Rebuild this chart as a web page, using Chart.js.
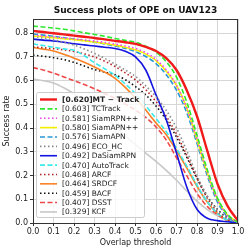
<!DOCTYPE html>
<html>
<head>
<meta charset="utf-8">
<script src="https://cdn.jsdelivr.net/npm/chart.js@4.4.1/dist/chart.umd.min.js"></script>
<style>
  html, body { margin: 0; padding: 0; background: #fff; }
  canvas { display: block; }
</style>
</head>
<body>
<canvas id="chart" width="249" height="252"></canvas>
<script>
// overlap thresholds (x) and success rates per tracker (y)
const thresholds = [0.0, 0.05, 0.1, 0.15, 0.2, 0.25, 0.3, 0.35, 0.4, 0.45, 0.5, 0.55, 0.6, 0.65, 0.7, 0.75, 0.8, 0.85, 0.9, 0.95, 1.0];

const trackerNames = [
  "[0.620]MT \u2212 Track", "[0.603] TCTrack", "[0.581] SiamRPN++", "[0.580] SiamAPN++",
  "[0.576] SiamAPN", "[0.496] ECO_HC", "[0.492] DaSiamRPN", "[0.470] AutoTrack",
  "[0.468] ARCF", "[0.464] SRDCF", "[0.459] BACF", "[0.407] DSST", "[0.329] KCF",
];

const mtTrack   = [0.810, 0.805, 0.800, 0.795, 0.790, 0.785, 0.780, 0.774, 0.768, 0.762, 0.755, 0.742, 0.725, 0.695, 0.645, 0.560, 0.450, 0.305, 0.165, 0.070, 0.010];
const tcTrack   = [0.830, 0.826, 0.822, 0.817, 0.810, 0.802, 0.795, 0.787, 0.778, 0.770, 0.762, 0.745, 0.720, 0.680, 0.615, 0.510, 0.370, 0.225, 0.105, 0.035, 0.003];
const siamRPNpp = [0.792, 0.788, 0.784, 0.780, 0.776, 0.772, 0.767, 0.761, 0.754, 0.746, 0.736, 0.718, 0.690, 0.645, 0.580, 0.485, 0.355, 0.215, 0.098, 0.030, 0.002];
const siamAPNpp = [0.788, 0.785, 0.781, 0.777, 0.773, 0.768, 0.763, 0.757, 0.750, 0.741, 0.730, 0.712, 0.685, 0.640, 0.580, 0.485, 0.350, 0.212, 0.100, 0.033, 0.003];
const siamAPN   = [0.797, 0.792, 0.787, 0.781, 0.775, 0.769, 0.762, 0.755, 0.746, 0.736, 0.722, 0.702, 0.672, 0.625, 0.560, 0.465, 0.335, 0.200, 0.088, 0.025, 0.002];
const ecoHC     = [0.785, 0.780, 0.772, 0.762, 0.750, 0.734, 0.715, 0.694, 0.670, 0.645, 0.618, 0.578, 0.532, 0.475, 0.400, 0.305, 0.200, 0.115, 0.055, 0.018, 0.001];
const daSiamRPN = [0.775, 0.771, 0.767, 0.762, 0.756, 0.751, 0.746, 0.741, 0.736, 0.724, 0.700, 0.645, 0.540, 0.435, 0.295, 0.152, 0.058, 0.020, 0.010, 0.005, 0.000];
const autoTrack = [0.755, 0.748, 0.741, 0.734, 0.728, 0.705, 0.676, 0.650, 0.623, 0.586, 0.546, 0.495, 0.440, 0.385, 0.315, 0.240, 0.160, 0.090, 0.040, 0.012, 0.000];
const arcf      = [0.742, 0.739, 0.735, 0.730, 0.723, 0.713, 0.700, 0.682, 0.660, 0.633, 0.603, 0.562, 0.512, 0.450, 0.375, 0.285, 0.190, 0.105, 0.045, 0.012, 0.000];
const srdcf     = [0.740, 0.733, 0.725, 0.711, 0.695, 0.678, 0.658, 0.636, 0.610, 0.572, 0.527, 0.476, 0.422, 0.372, 0.305, 0.232, 0.155, 0.088, 0.040, 0.012, 0.000];
const bacf      = [0.708, 0.703, 0.697, 0.689, 0.677, 0.662, 0.647, 0.636, 0.625, 0.604, 0.575, 0.540, 0.493, 0.435, 0.362, 0.278, 0.188, 0.112, 0.057, 0.020, 0.000];
const dsst      = [0.655, 0.645, 0.632, 0.616, 0.600, 0.584, 0.566, 0.546, 0.526, 0.502, 0.476, 0.445, 0.405, 0.350, 0.275, 0.200, 0.125, 0.070, 0.035, 0.010, 0.000];
const kcf       = [0.607, 0.600, 0.590, 0.570, 0.545, 0.515, 0.482, 0.447, 0.408, 0.368, 0.330, 0.295, 0.260, 0.222, 0.180, 0.135, 0.092, 0.056, 0.030, 0.012, 0.000];

const xTicks = [0.0, 0.1, 0.2, 0.3, 0.4, 0.5, 0.6, 0.7, 0.8, 0.9, 1.0];
const yTicks = [0.0, 0.1, 0.2, 0.3, 0.4, 0.5, 0.6, 0.7, 0.8];

const DASH = [5, 2.5];
const DOT = [1.5, 2.5];
const styles = [
  { color: "#f01a1a", width: 2.4, dash: [] },
  { color: "#2ee82e", width: 1.6, dash: DASH },
  { color: "#f040f0", width: 1.6, dash: DOT },
  { color: "#f2f000", width: 1.6, dash: [] },
  { color: "#2a98d4", width: 1.6, dash: DASH },
  { color: "#8c8c8c", width: 1.6, dash: DOT },
  { color: "#1414e0", width: 1.6, dash: [] },
  { color: "#3aeaea", width: 1.6, dash: DASH },
  { color: "#b42222", width: 1.6, dash: DOT },
  { color: "#fb8224", width: 1.6, dash: [] },
  { color: "#111111", width: 1.6, dash: DOT },
  { color: "#ee4848", width: 1.6, dash: DASH },
  { color: "#c8c8c8", width: 1.6, dash: [] },
];
const series = [mtTrack, tcTrack, siamRPNpp, siamAPNpp, siamAPN, ecoHC, daSiamRPN, autoTrack, arcf, srdcf, bacf, dsst, kcf];

const FONT = "DejaVu Sans";
const TEXT = "#222";

const overlay = {
  id: "overlay",
  afterDatasetsDraw(chart) {
    const ctx = chart.ctx;
    const a = chart.chartArea;
    ctx.save();
    // frame
    ctx.strokeStyle = "#333";
    ctx.lineWidth = 1;
    ctx.setLineDash([]);
    ctx.strokeRect(Math.round(a.left) + 0.5, Math.round(a.top) + 0.5, Math.round(a.right - a.left) - 1, Math.round(a.bottom - a.top));

    // legend box
    const bx = 36.5, by = 92.5, bw = 108, bh = 125;
    ctx.fillStyle = "rgba(255,255,255,0.82)";
    ctx.strokeStyle = "#cccccc";
    ctx.beginPath();
    ctx.roundRect(bx, by, bw, bh, 2);
    ctx.fill();
    ctx.stroke();

    const rowH = 9.37, firstY = 99.5;
    chart.data.datasets.forEach((ds, i) => {
      const y = firstY + i * rowH;
      ctx.strokeStyle = ds.borderColor;
      ctx.lineWidth = ds.borderWidth;
      ctx.setLineDash(ds.borderDash);
      ctx.beginPath();
      ctx.moveTo(40, y);
      ctx.lineTo(57, y);
      ctx.stroke();
      ctx.fillStyle = TEXT;
      ctx.font = (i === 0 ? "bold " : "") + "7.5px '" + FONT + "'";
      ctx.textBaseline = "middle";
      ctx.textAlign = "left";
      ctx.fillText(ds.label, 62, y + 0.5);
    });

    // title
    ctx.font = "bold 9px '" + FONT + "'";
    ctx.fillStyle = "#111";
    ctx.textAlign = "center";
    ctx.textBaseline = "middle";
    ctx.fillText("Success plots of OPE on UAV123", (a.left + a.right) / 2, 11);
    ctx.restore();
  },
};

const tickFont = { family: FONT, size: 8 };

new Chart(document.getElementById("chart"), {
  type: "line",
  data: {
    datasets: series.map((vals, i) => ({
      label: trackerNames[i],
      data: thresholds.map((t, j) => ({ x: t, y: vals[j] })),
      borderColor: styles[i].color,
      borderWidth: styles[i].width,
      borderDash: styles[i].dash,
      pointRadius: 0,
      fill: false,
      cubicInterpolationMode: "monotone",
    })),
  },
  options: {
    responsive: false,
    animation: false,
    devicePixelRatio: 1,
    layout: { padding: { top: 19, right: 11, left: 0, bottom: 0 } },
    plugins: { legend: { display: false }, tooltip: { enabled: false }, title: { display: false } },
    scales: {
      x: {
        type: "linear",
        min: 0,
        max: 1,
        afterBuildTicks: (s) => { s.ticks = xTicks.map((v) => ({ value: v })); },
        afterFit: (s) => { s.height = 29; },
        ticks: { font: tickFont, color: TEXT, padding: 1, maxRotation: 0, autoSkip: false, callback: (v) => v.toFixed(1) },
        grid: { color: "#d6d6d6", tickColor: "#333", tickLength: 3 },
        border: { color: "#333" },
        title: { display: true, text: "Overlap threshold", font: tickFont, color: TEXT, padding: { top: 0, bottom: 4 } },
      },
      y: {
        min: 0,
        max: 0.86,
        afterBuildTicks: (s) => { s.ticks = yTicks.map((v) => ({ value: v })); },
        afterFit: (s) => { s.width = 33; },
        ticks: { font: tickFont, color: TEXT, padding: 2, callback: (v) => v.toFixed(1) },
        grid: { color: "#d6d6d6", tickColor: "#333", tickLength: 3 },
        border: { color: "#333" },
        title: { display: true, text: "Success rate", font: tickFont, color: TEXT, padding: { top: 2, bottom: 0 } },
      },
    },
  },
  plugins: [overlay],
});
</script>
</body>
</html>
